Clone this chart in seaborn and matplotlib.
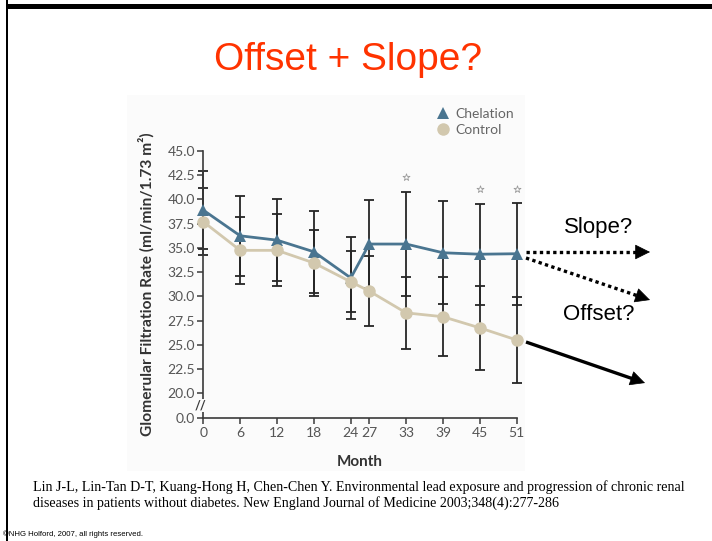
import numpy as np
import pandas as pd
import matplotlib
matplotlib.use("Agg")
import matplotlib.pyplot as plt
from matplotlib.lines import Line2D
from matplotlib.patches import Rectangle
import seaborn as sns

# ---------------- data ----------------
months = [0, 6, 12, 18, 24, 27, 33, 39, 45, 51]
chelation = [38.9, 36.25, 35.8, 34.6, 31.9, 35.4, 35.4, 34.5, 34.35, 34.4]
control = [37.7, 34.75, 34.75, 33.45, 31.5, 30.55, 28.3, 27.9, 26.75, 25.5]
chelation_err = [4.0, 4.1, 4.25, 4.2, 4.25, 4.5, 5.4, 5.3, 5.2, 5.25]
control_err = [3.45, 3.45, 3.7, 3.45, 3.15, 3.6, 3.7, 4.1, 4.3, 4.4]
star_months = [33, 45, 51]
star_y = [42.3, 41.1, 41.1]
ytick_vals = [17.42, 20.0, 22.5, 25.0, 27.5, 30.0, 32.5, 35.0, 37.5, 40.0, 42.5, 45.0]
ytick_labels = ["0.0", "20.0", "22.5", "25.0", "27.5", "30.0", "32.5",
                "35.0", "37.5", "40.0", "42.5", "45.0"]
groups = ["Chelation", "Control"]

C_CHEL = "#4a7590"
C_CTRL = "#d2c8ae"

W, H = 712, 541
sns.set_theme(style="white")
plt.rcParams["font.family"] = ["Lato", "DejaVu Sans"]

fig = plt.figure(figsize=(W / 100, H / 100), dpi=100)
fig.patch.set_facecolor("white")

def px(x, y):
    return (x / W, 1 - y / H)

# chart image background
fig.patches.append(Rectangle(px(127, 471), (525 - 127) / W, (471 - 95) / H,
                             transform=fig.transFigure, facecolor="#fbfbfb",
                             edgecolor="none", zorder=-5))
# slide frame
fig.patches.append(Rectangle(px(7, 8.5), (W - 7) / W, 4.5 / H,
                             transform=fig.transFigure, facecolor="black",
                             edgecolor="none", zorder=5))
fig.patches.append(Rectangle(px(5.5, H), 2.5 / W, 1.0,
                             transform=fig.transFigure, facecolor="black",
                             edgecolor="none", zorder=5))

left, right, top, bottom = 203.3, 516.7, 151.0, 418.3
ax = fig.add_axes([left / W, 1 - bottom / H, (right - left) / W, (bottom - top) / H])
ax.set_facecolor("none")
ax.set_zorder(2)

df = pd.DataFrame({
    "Month": months * 2,
    "GFR": chelation + control,
    "Group": [groups[0]] * len(months) + [groups[1]] * len(months),
})

# error bars
ax.errorbar(months, chelation, yerr=chelation_err, fmt="none", ecolor="#262626",
            elinewidth=1.3, capsize=3.8, capthick=1.3, zorder=2, clip_on=False)
ax.errorbar(months, control, yerr=control_err, fmt="none", ecolor="#262626",
            elinewidth=1.3, capsize=3.8, capthick=1.3, zorder=2, clip_on=False)

sns.lineplot(data=df, x="Month", y="GFR", hue="Group", style="Group",
             palette={groups[0]: C_CHEL, groups[1]: C_CTRL},
             markers={groups[0]: "^", groups[1]: "o"}, dashes=False,
             markersize=9, markeredgewidth=0, linewidth=2.0, ax=ax,
             legend=False, zorder=3)
for ln in ax.lines:
    ln.set_clip_on(False)

ax.scatter(star_months, star_y, marker="*", s=28, facecolor="white",
           edgecolor="#9a9a9a", linewidth=0.6, zorder=4, clip_on=False)

ax.set_xlim(0, 51)
ax.set_ylim(17.42, 45.0)
ax.set_xticks(months)
ax.set_xticklabels([str(m) for m in months])
ax.set_yticks(ytick_vals)
ax.set_yticklabels(ytick_labels)
for s in ["top", "right"]:
    ax.spines[s].set_visible(False)
for s in ["left", "bottom"]:
    ax.spines[s].set_color("#3a3a3a")
    ax.spines[s].set_linewidth(1.2)
ax.tick_params(axis="both", direction="out", length=4, width=1.1, color="#3a3a3a",
               labelsize=10, labelcolor="#555555", pad=2)
ax.tick_params(axis="both", which="both", left=True, bottom=True)
ax.set_xlabel("Month", fontsize=11, fontweight="bold", color="#333333", labelpad=12)
ax.set_ylabel("Glomerular Filtration Rate (ml/min/1.73 m²)", fontsize=11.2,
              fontweight="bold", color="#333333", labelpad=9)

# axis break mark
ax.text(-0.4, 18.75, "//", ha="center", va="center", fontsize=9, color="#3a3a3a",
        fontweight="bold", rotation=0,
        bbox=dict(facecolor="#fbfbfb", edgecolor="none", pad=0.3),
        zorder=5, clip_on=False)

# legend
handles = [
    Line2D([], [], marker="^", ls="none", color=C_CHEL, markersize=9, markeredgewidth=0),
    Line2D([], [], marker="o", ls="none", color=C_CTRL, markersize=9, markeredgewidth=0),
]
leg = fig.legend(handles, groups, loc="upper left", bbox_to_anchor=px(428, 101),
                 frameon=False, fontsize=10, handletextpad=0.25, labelspacing=0.3,
                 borderpad=0, handlelength=1.2)
for t in leg.get_texts():
    t.set_color("#666666")

# title
fig.text(*px(348, 60), "Offset + Slope?", ha="center", va="center", fontsize=28,
         color="#ff3300", family=["Liberation Sans"])

# annotations
fig.text(*px(599, 228), "Slope?", ha="center", va="center", fontsize=16,
         color="black", family=["Liberation Sans"])
fig.text(*px(599, 314), "Offset?", ha="center", va="center", fontsize=16,
         color="black", family=["Liberation Sans"])

def arrow(x0, y0, x1, y1, dotted):
    p0, p1 = px(x0, y0), px(x1, y1)
    v = np.array([x1 - x0, y1 - y0], float)
    v /= np.hypot(*v)
    xe, ye = x1 - v[0] * 8, y1 - v[1] * 8
    pe = px(xe, ye)
    fig.add_artist(Line2D([p0[0], pe[0]], [p0[1], pe[1]], transform=fig.transFigure,
                          color="black", lw=2.4,
                          linestyle=(0, (1, 1)) if dotted else "-",
                          solid_capstyle="butt", dash_capstyle="butt"))
    fig.add_artist(matplotlib.patches.FancyArrowPatch(
        pe, p1, transform=fig.transFigure, arrowstyle="-|>,head_length=0.7,head_width=0.35",
        mutation_scale=14, color="black", lw=0.5, shrinkA=0, shrinkB=0))

arrow(526, 252, 650, 252, True)
arrow(526, 258, 650, 300, True)
arrow(526, 342, 645, 383, False)

# citation
fig.text(*px(33, 487), "Lin J-L, Lin-Tan D-T, Kuang-Hong H, Chen-Chen Y. Environmental lead "
         "exposure and progression of chronic renal", ha="left", va="center",
         fontsize=10.1, color="black", family=["Liberation Serif"])
fig.text(*px(33, 503), "diseases in patients without diabetes. New England Journal of "
         "Medicine 2003;348(4):277-286", ha="left", va="center",
         fontsize=10.1, color="black", family=["Liberation Serif"])
fig.text(*px(3, 534), "©NHG Holford, 2007, all rights reserved.", ha="left",
         va="center", fontsize=5.6, color="black", family=["Liberation Sans"])

fig.savefig("out.png", dpi=100)
